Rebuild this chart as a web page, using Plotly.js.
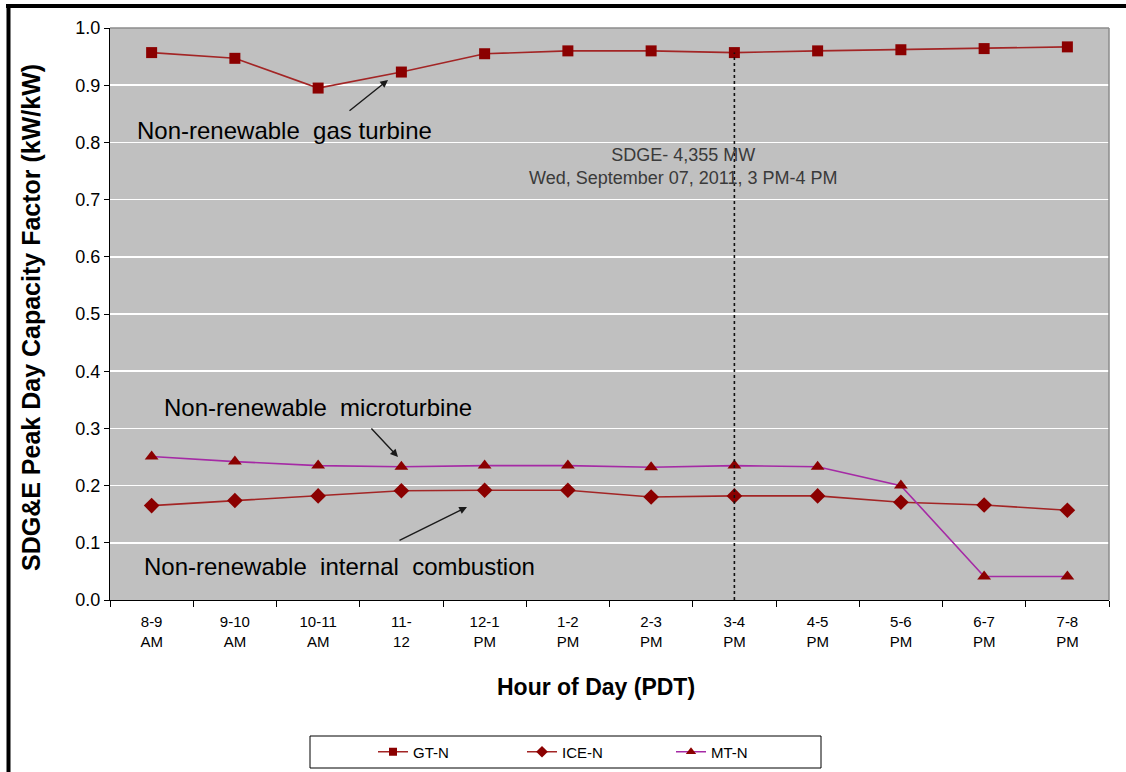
<!DOCTYPE html>
<html>
<head>
<meta charset="utf-8">
<script src="https://cdn.plot.ly/plotly-3.0.1.min.js"></script>
<style>
  html, body { margin: 0; padding: 0; background: #ffffff; }
  #chart { width: 1126px; height: 772px; }
</style>
</head>
<body>
<div id="chart"></div>
<script>
// ---- data ----
const hours = ['8-9<br>AM','9-10<br>AM','10-11<br>AM','11-<br>12','12-1<br>PM','1-2<br>PM',
               '2-3<br>PM','3-4<br>PM','4-5<br>PM','5-6<br>PM','6-7<br>PM','7-8<br>PM'];
const gtN  = [0.957, 0.947, 0.895, 0.923, 0.955, 0.960, 0.960, 0.957, 0.960, 0.962, 0.964, 0.967];
const iceN = [0.165, 0.174, 0.182, 0.191, 0.192, 0.192, 0.180, 0.182, 0.182, 0.171, 0.166, 0.157];
const mtN  = [0.251, 0.242, 0.235, 0.233, 0.235, 0.235, 0.232, 0.235, 0.233, 0.200, 0.041, 0.041];
const seriesNames = ['GT-N', 'ICE-N', 'MT-N'];
const yTicks = [0, 0.1, 0.2, 0.3, 0.4, 0.5, 0.6, 0.7, 0.8, 0.9, 1.0];
const peakIndex = 7; // 3-4 PM
const peakNote = 'SDGE- 4,355 MW<br>Wed, September 07, 2011, 3 PM-4 PM';

const FONT = 'Liberation Sans, Arial, Helvetica, sans-serif';
const MARK = '#8b0000';

// pixel -> paper helpers (plot area: x 110..1109, y 28..600)
const L = 110, R = 1109, T = 28, B = 600;
const px = x => (x - L) / (R - L);
const py = y => (B - y) / (B - T);

const styles = [
  { line: { color: '#a32525', width: 1.6 }, symbol: 'square', size: 11, lsize: 8 },
  { line: { color: '#a32525', width: 1.6 }, symbol: 'diamond', size: 12, lsize: 9 },
  { line: { color: '#a52aa5', width: 1.6 }, symbol: 'triangle-up', size: 12, lsize: 9 }
];
const values = [gtN, iceN, mtN];

const traces = [];
values.forEach((vals, i) => {
  traces.push({ x: hours, y: vals, name: seriesNames[i], type: 'scatter', mode: 'lines+markers',
    line: styles[i].line, showlegend: false, legendgroup: seriesNames[i],
    marker: { symbol: styles[i].symbol, size: styles[i].size, color: MARK } });
});
// legend entries (smaller symbols, like the reference legend)
values.forEach((vals, i) => {
  traces.push({ x: [null], y: [null], name: seriesNames[i], type: 'scatter', mode: 'lines+markers',
    line: styles[i].line, showlegend: true, legendgroup: seriesNames[i],
    marker: { symbol: styles[i].symbol, size: styles[i].lsize, color: MARK } });
});

const arrowStyle = { showarrow: true, arrowhead: 2, arrowsize: 1.1, arrowwidth: 1.4,
                     arrowcolor: '#1a1a1a', axref: 'pixel', ayref: 'pixel', text: '' };

const layout = {
  width: 1126, height: 772,
  margin: { l: L, r: 1126 - R, t: T, b: 772 - B, pad: 0, autoexpand: false },
  paper_bgcolor: '#ffffff',
  plot_bgcolor: '#c0c0c0',
  font: { family: FONT, color: '#000000' },
  showlegend: true,
  legend: {
    orientation: 'h', x: px(373), xanchor: 'left', y: py(752), yanchor: 'middle',
    entrywidth: 104, entrywidthmode: 'pixels', traceorder: 'normal',
    font: { family: FONT, size: 15, color: '#000' },
    bgcolor: 'rgba(0,0,0,0)', borderwidth: 0
  },
  xaxis: {
    type: 'category', range: [-0.5, 11.5], fixedrange: true,
    showline: true, linecolor: '#000', linewidth: 1,
    ticks: 'outside', tickson: 'boundaries', ticklen: 6, tickcolor: '#000',
    ticklabelstandoff: 8,
    tickfont: { family: FONT, size: 15, color: '#000' },
    showgrid: false, zeroline: false
  },
  yaxis: {
    range: [0, 1], tickvals: yTicks, tickformat: '.1f',
    showline: true, linecolor: '#000', linewidth: 1,
    ticks: 'outside', ticklen: 5, tickcolor: '#000',
    tickfont: { family: FONT, size: 18, color: '#000' },
    showgrid: true, gridcolor: '#ffffff', gridwidth: 1.5, zeroline: false
  },
  shapes: [
    // grey top and right borders of plot area
    { type: 'line', xref: 'paper', yref: 'paper', x0: 0, x1: 1, y0: 1, y1: 1,
      line: { color: '#8c8c8c', width: 1.5 } },
    { type: 'line', xref: 'paper', yref: 'paper', x0: 1, x1: 1, y0: 0, y1: 1,
      line: { color: '#8c8c8c', width: 1.5 } },
    // dotted marker of the peak hour
    { type: 'line', xref: 'x', yref: 'y', x0: peakIndex, x1: peakIndex, y0: 0, y1: gtN[peakIndex],
      line: { color: '#111', width: 1.6, dash: 'dot' } },
    // legend box
    { type: 'rect', xref: 'paper', yref: 'paper', x0: px(310), x1: px(821), y0: py(736), y1: py(768),
      line: { color: '#000', width: 1 }, fillcolor: 'rgba(0,0,0,0)' },
    // heavy outer frame (top and left)
    { type: 'line', xref: 'paper', yref: 'paper', x0: px(6), x1: px(1130), y0: py(6), y1: py(6),
      line: { color: '#000', width: 4 } },
    { type: 'line', xref: 'paper', yref: 'paper', x0: px(8.5), x1: px(8.5), y0: py(4), y1: py(780),
      line: { color: '#000', width: 4 } }
  ],
  annotations: [
    { xref: 'paper', yref: 'paper', x: px(135), y: py(130), xanchor: 'left', yanchor: 'middle',
      text: 'Non-renewable&nbsp; gas turbine', showarrow: false,
      font: { family: FONT, size: 24, color: '#000' } },
    { xref: 'paper', yref: 'paper', x: px(162), y: py(407), xanchor: 'left', yanchor: 'middle',
      text: 'Non-renewable&nbsp; microturbine', showarrow: false,
      font: { family: FONT, size: 24, color: '#000' } },
    { xref: 'paper', yref: 'paper', x: px(142), y: py(566), xanchor: 'left', yanchor: 'middle',
      text: 'Non-renewable&nbsp; internal&nbsp; combustion', showarrow: false,
      font: { family: FONT, size: 24, color: '#000' } },
    Object.assign({ xref: 'paper', yref: 'paper', x: px(388), y: py(80), ax: -40, ay: 32 }, arrowStyle),
    Object.assign({ xref: 'paper', yref: 'paper', x: px(398), y: py(457), ax: -28, ay: -30 }, arrowStyle),
    Object.assign({ xref: 'paper', yref: 'paper', x: px(467), y: py(507), ax: -69, ay: 34 }, arrowStyle),
    { xref: 'paper', yref: 'paper', x: px(683), y: py(166), xanchor: 'center', yanchor: 'middle',
      text: peakNote, showarrow: false, align: 'center',
      font: { family: FONT, size: 18, color: '#3a3a3a' } },
    { xref: 'paper', yref: 'paper', x: px(596), y: py(687), xanchor: 'center', yanchor: 'middle',
      text: '<b>Hour of Day (PDT)</b>', showarrow: false,
      font: { family: FONT, size: 23, color: '#000' } },
    { xref: 'paper', yref: 'paper', x: px(31), y: py(318), xanchor: 'center', yanchor: 'middle',
      text: '<b>SDG&amp;E Peak Day Capacity Factor (kW/kW)</b>', showarrow: false, textangle: -90,
      font: { family: FONT, size: 25, color: '#000' } }
  ]
};

Plotly.newPlot('chart', traces, layout, { displayModeBar: false, staticPlot: true });
</script>
</body>
</html>
